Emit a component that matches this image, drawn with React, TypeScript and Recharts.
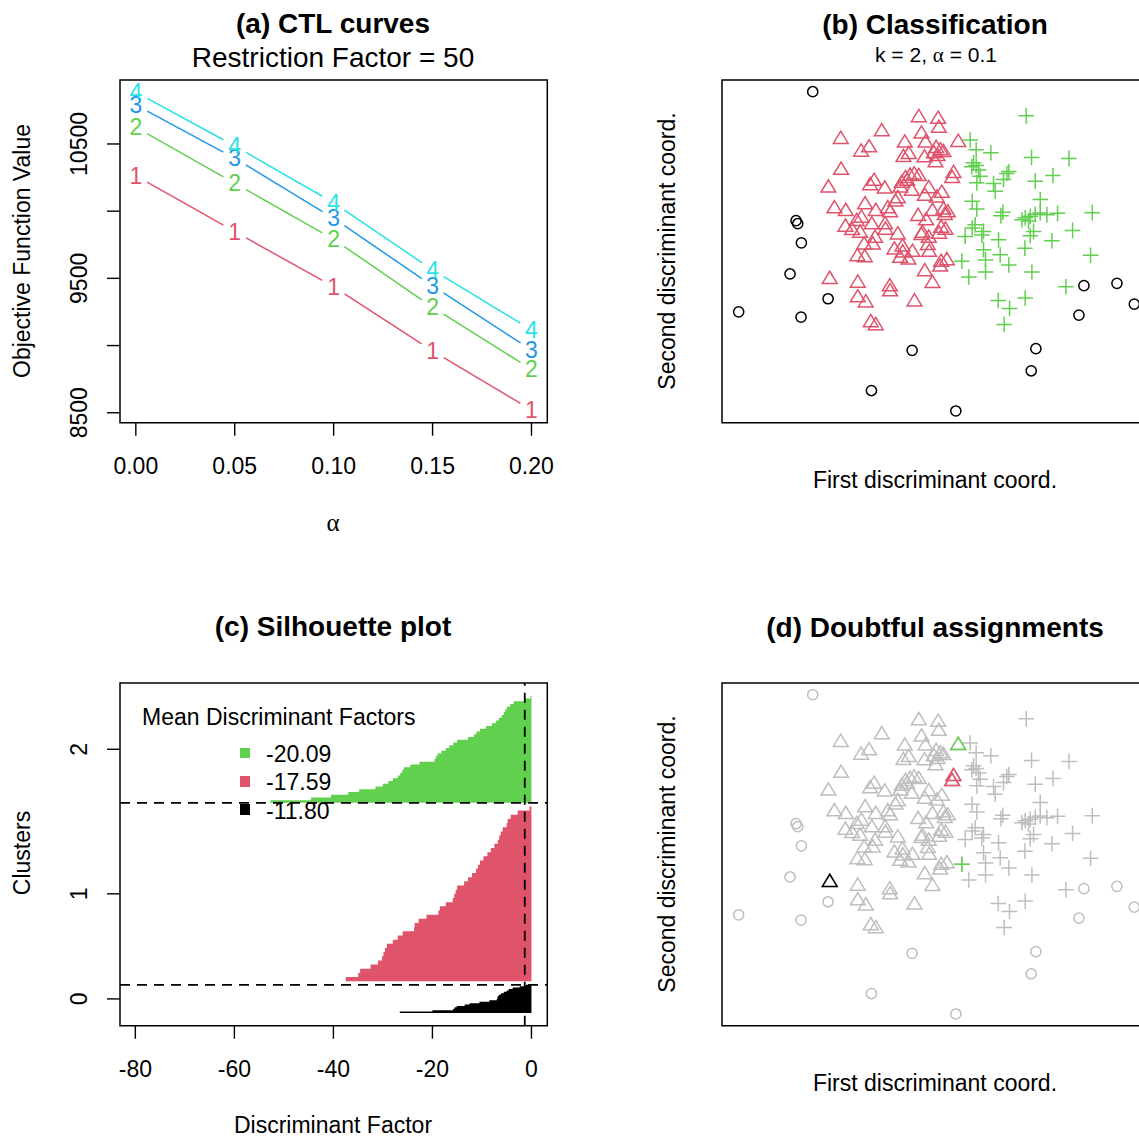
import React from 'react';
import {
  LineChart, Line, XAxis, YAxis, ReferenceArea, ReferenceLine,
  ScatterChart, Scatter, ComposedChart, Area,
} from 'recharts';

const FONT = '"Liberation Sans", Arial, Helvetica, sans-serif';
const SERIF = '"Liberation Serif", "DejaVu Serif", serif';
const RED = '#DF536B';
const GREEN = '#61D04F';
const BLUE = '#2297E6';
const CYAN = '#28E2E5';
const GREY = '#BEBEBE';
const CLUSTER_COLORS = ['#000000', RED, GREEN];

// ---- (a) CTL curves ----
const alphas = [0, 0.05, 0.1, 0.15, 0.2];
const ctlK1 = [10264, 9848, 9438, 8960, 8521];
const ctlK2 = [10624, 10208, 9791, 9285, 8824];
const ctlK3 = [10790, 10394, 9947, 9444, 8967];
const ctlK4 = [10885, 10485, 10063, 9563, 9116];
const ctlYTicks = [8500, 9000, 9500, 10000, 10500];
const ctlYLabelled = [8500, 9500, 10500];

// ---- (b)/(d) discriminant coordinates ----
const outliers: [number, number][] = [
  [-3.22, 4.62], [-3.72, 0.77], [-3.67, 0.68], [-3.56, 0.11], [-3.90, -0.82], [-2.76, -1.56],
  [-5.44, -1.95], [-3.57, -2.11], [-0.24, -3.10], [-1.46, -4.30], [1.07, -4.91], [3.47, -3.05],
  [3.33, -3.71], [4.91, -1.17], [5.90, -1.10], [6.42, -1.72], [4.76, -2.05],
];

const cluster1: [number, number][] = [
  [-0.04, 3.90], [0.54, 3.85], [0.56, 3.58], [-1.15, 3.48], [-2.38, 3.25], [0.04, 3.41], [-0.46, 3.14], [0.16, 3.14], [1.14, 3.16], [-1.53, 3.00],
  [-1.77, 2.87], [-0.34, 2.80], [-0.50, 2.71], [0.13, 2.70], [0.48, 2.98], [0.61, 2.91], [0.41, 2.82], [0.70, 2.86], [0.52, 2.74], [0.46, 2.55],
  [-2.37, 2.33], [1.00, 2.23], [0.96, 2.08], [-2.75, 1.80], [-1.38, 2.00], [-1.50, 1.87], [-1.06, 1.77], [-0.44, 2.08], [-0.30, 2.15], [-0.18, 2.19],
  [-0.04, 2.14], [-0.39, 2.00], [-0.55, 1.94], [-0.59, 1.80], [-0.25, 1.70], [0.26, 1.78], [0.14, 1.55], [0.65, 1.64], [0.50, 1.50], [-0.67, 1.48],
  [-0.74, 1.38], [-1.65, 1.30], [-2.57, 1.18], [-2.23, 1.10], [-1.33, 1.10], [-0.97, 1.18], [-0.90, 1.06], [0.37, 1.10], [0.70, 1.14], [0.83, 1.06],
  [-0.06, 0.95], [0.18, 0.82], [-1.76, 0.90], [-1.90, 0.80], [-1.45, 0.70], [-1.05, 0.70], [-2.24, 0.63], [-2.04, 0.53], [-1.80, 0.45], [-1.04, 0.54],
  [0.07, 0.45], [0.63, 0.60], [0.76, 0.54], [0.57, 0.42], [-0.67, 0.40], [-1.35, 0.30], [-1.68, 0.10], [-1.42, 0.10], [0.26, 0.30], [0.04, 0.38],
  [0.23, 0.08], [-0.53, 0.04], [-0.77, -0.05], [-0.23, -0.12], [-0.52, -0.14], [0.27, -0.12], [-1.88, -0.25], [-1.66, -0.28], [-0.60, -0.30], [-0.35, -0.35],
  [0.80, -0.37], [0.63, -0.42], [0.60, -0.56], [0.14, -0.70], [0.37, -1.05], [-2.71, -0.93], [-1.87, -1.04], [-0.91, -1.15], [-0.90, -1.30], [-1.87, -1.48],
  [-1.63, -1.63], [-0.17, -1.60], [-1.48, -2.22], [-1.33, -2.31], [0.74, 0.98],
];

const cluster2: [number, number][] = [
  [3.18, 3.90], [1.50, 3.18], [1.68, 2.89], [2.12, 2.80], [3.34, 2.66], [4.46, 2.63], [1.60, 2.50], [1.68, 2.42], [1.55, 2.38], [1.75, 2.28],
  [1.80, 2.10], [2.20, 1.88], [2.25, 1.65], [2.66, 2.24], [2.60, 2.18], [2.50, 2.00], [3.45, 1.95], [3.98, 2.12], [1.70, 1.90], [1.56, 1.35],
  [3.60, 1.40], [1.70, 1.12], [2.48, 1.02], [2.42, 0.92], [3.05, 0.80], [3.15, 0.86], [3.25, 0.76], [3.30, 0.90], [3.45, 0.96], [3.60, 1.00],
  [3.80, 0.95], [4.12, 0.99], [5.16, 1.01], [1.65, 0.65], [1.56, 0.55], [1.90, 0.45], [1.85, 0.34], [1.35, 0.30], [2.35, 0.20], [3.40, 0.45],
  [3.30, 0.32], [3.95, 0.17], [4.57, 0.48], [3.14, -0.05], [1.90, -0.10], [2.40, -0.25], [5.11, -0.26], [1.25, -0.44], [1.96, -0.40], [2.66, -0.55],
  [3.35, -0.76], [1.46, -0.91], [1.96, -0.76], [4.37, -1.20], [2.34, -1.61], [2.68, -1.85], [3.15, -1.54], [2.52, -2.33],
];

// doubtful assignments: index in its cluster and the cluster whose colour marks it
const doubtful1Idx = [8, 21, 22, 85];
const doubtful1Col = [2, 1, 1, 0];
const doubtful2Idx = [47];
const doubtful2Col = [2];

// ---- (c) silhouette (sorted discriminant factors, bottom to top) ----
const silh0 = [-26.6, -20.0, -15.8, -15.5, -15.1, -13.5, -12.5, -10.5, -8.5, -7.0, -6.9, -6.8, -6.6, -6.2, -5.6, -5.0, -4.6, -3.8, -2.4, -1.2];
const silh1 = [
  -37.5, -35.0, -34.6, -32.5, -31.0, -30.2, -29.9, -29.6, -29.2, -28.0, -27.0, -26.0, -23.7, -23.6,
  -22.8, -21.2, -18.8, -18.5, -17.3, -15.9, -15.6, -15.3, -15.0, -13.6, -12.8, -12.0, -11.2, -10.8,
  -10.4, -9.7, -8.9, -8.2, -7.5, -6.8, -6.5, -6.2, -5.8, -5.0, -4.8, -4.2, -2.8, -0.4,
];
const silh2 = [
  -52.7, -44.5, -40.5, -37.0, -34.8, -31.5, -30.0, -28.9, -28.0, -27.0, -26.5, -26.1, -25.8,
  -24.5, -22.6, -19.6, -19.3, -19.0, -18.2, -17.3, -16.6, -15.8, -15.0, -12.8, -11.6, -11.1,
  -10.4, -9.2, -8.0, -7.2, -6.6, -6.0, -5.6, -5.3, -5.0, -4.3, -3.6, -1.5, -0.2,
];
const clusterSizes = [20, 124, 76];
const clusterGap = 2.5;
const dfThreshold = -1.35;
const meanFactors = ['-20.09', '-17.59', '-11.80'];
const meanFactorClusters = [2, 1, 0];

// ---- layout ----
const PW = 602;
const PH = 603;
const MARGIN = { top: 80, right: 54.7, bottom: 120.3, left: 60 };
const TICK_LINE = { stroke: '#000', strokeWidth: 1.4 };
const BOX = { fill: 'none', stroke: '#000', strokeWidth: 1.5, fillOpacity: 0 };
const FS = 23;

const CTL_X: [number, number] = [-0.008, 0.208];
const CTL_Y: [number, number] = [8426, 10976];
const SC_X: [number, number] = [-5.94, 6.87];
const SC_Y: [number, number] = [-5.26, 4.97];
const DF_X: [number, number] = [-83.1, 3.2];

const Txt = ({ x, y, size = FS, bold = false, rotate = false, children }: any) => (
  <div
    style={{
      position: 'absolute', left: x, top: y,
      transform: `translate(-50%, -50%)${rotate ? ' rotate(-90deg)' : ''}`,
      fontSize: size, fontWeight: bold ? 700 : 400, fontFamily: FONT,
      whiteSpace: 'nowrap', lineHeight: 1, color: '#000',
    }}
  >
    {children}
  </div>
);

const Panel = ({ left, top, children }: any) => (
  <div style={{ position: 'absolute', left, top, width: PW, height: PH }}>{children}</div>
);

const XTick = ({ x, y, text }: any) => (
  <text x={x} y={y} textAnchor="middle" dominantBaseline="central" fontSize={FS} fontFamily={FONT} fill="#000">
    {text}
  </text>
);

const YTick = ({ x, y, text }: any) => (
  <text x={x} y={y} transform={`rotate(-90 ${x} ${y})`} textAnchor="middle" dominantBaseline="central"
    fontSize={FS} fontFamily={FONT} fill="#000">
    {text}
  </text>
);

// number label at each point, with the segment to the next point drawn with gaps (type = "b")
const GAP = 13;
const makeLabelDot = (label: string, color: string) => (props: any) => {
  const { cx, cy, index, points } = props;
  const next = points && points[index + 1];
  let seg = null;
  if (next) {
    const dx = next.x - cx;
    const dy = next.y - cy;
    const len = Math.hypot(dx, dy);
    const ux = dx / len;
    const uy = dy / len;
    seg = (
      <line x1={cx + ux * GAP} y1={cy + uy * GAP} x2={next.x - ux * GAP} y2={next.y - uy * GAP}
        stroke={color} strokeWidth={1.5} />
    );
  }
  return (
    <g key={`lbl-${label}-${index}`}>
      {seg}
      <text x={cx} y={cy} textAnchor="middle" dominantBaseline="central" fontSize={FS} fontFamily={FONT} fill={color}>
        {label}
      </text>
    </g>
  );
};

const circleShape = (color: string) => (p: any) => (
  <circle cx={p.cx} cy={p.cy} r={5.1} fill="none" stroke={color} strokeWidth={1.5} />
);
const triShape = (color: string) => (p: any) => (
  <polygon
    points={`${p.cx},${p.cy - 6.4} ${p.cx + 7.4},${p.cy + 5.8} ${p.cx - 7.4},${p.cy + 5.8}`}
    fill="none" stroke={color} strokeWidth={1.5} />
);
const plusShape = (color: string) => (p: any) => (
  <path d={`M${p.cx - 7.8},${p.cy}H${p.cx + 7.8}M${p.cx},${p.cy - 7.8}V${p.cy + 7.8}`}
    fill="none" stroke={color} strokeWidth={1.5} />
);

const toXY = (pts: [number, number][]) => pts.map(([x, y]) => ({ x, y }));

function CtlPanel() {
  const rows = alphas.map((a, i) => ({ alpha: a, k1: ctlK1[i], k2: ctlK2[i], k3: ctlK3[i], k4: ctlK4[i] }));
  const series = [
    { key: 'k1', label: '1', color: RED },
    { key: 'k2', label: '2', color: GREEN },
    { key: 'k3', label: '3', color: BLUE },
    { key: 'k4', label: '4', color: CYAN },
  ];
  return (
    <Panel left={0} top={0}>
      <LineChart width={PW} height={PH} data={rows} margin={MARGIN}>
        <XAxis type="number" dataKey="alpha" domain={CTL_X} ticks={alphas} allowDataOverflow interval={0}
          height={60} tickSize={13} tickMargin={30} axisLine={false} tickLine={TICK_LINE}
          tick={(p: any) => <XTick x={p.x} y={p.y} text={Number(p.payload.value).toFixed(2)} />} />
        <YAxis type="number" domain={CTL_Y} ticks={ctlYTicks} allowDataOverflow interval={0}
          width={60} tickSize={13} tickMargin={28} axisLine={false} tickLine={TICK_LINE}
          tick={(p: any) => (
            <YTick x={p.x} y={p.y} text={ctlYLabelled.includes(p.payload.value) ? String(p.payload.value) : ''} />
          )} />
        <ReferenceArea x1={CTL_X[0]} x2={CTL_X[1]} y1={CTL_Y[0]} y2={CTL_Y[1]} {...BOX} />
        {series.map((s) => (
          <Line key={s.key} dataKey={s.key} stroke="none" dot={makeLabelDot(s.label, s.color)}
            activeDot={false} isAnimationActive={false} />
        ))}
      </LineChart>
      <Txt x={333} y={24} size={28} bold>(a) CTL curves</Txt>
      <Txt x={333} y={58} size={28}>Restriction Factor = 50</Txt>
      <Txt x={22} y={251} rotate>Objective Function Value</Txt>
      <Txt x={333} y={522} size={25}><span style={{ fontFamily: SERIF }}>α</span></Txt>
    </Panel>
  );
}

function DiscPanel({ left, top, doubtful }: any) {
  const c0 = doubtful ? GREY : CLUSTER_COLORS[0];
  const c1 = doubtful ? GREY : CLUSTER_COLORS[1];
  const c2 = doubtful ? GREY : CLUSTER_COLORS[2];
  return (
    <Panel left={left} top={top}>
      <ScatterChart width={PW} height={PH} margin={MARGIN}>
        <XAxis type="number" dataKey="x" domain={SC_X} allowDataOverflow height={60}
          tick={false} tickLine={false} axisLine={false} />
        <YAxis type="number" dataKey="y" domain={SC_Y} allowDataOverflow width={60}
          tick={false} tickLine={false} axisLine={false} />
        <ReferenceArea x1={SC_X[0]} x2={SC_X[1]} y1={SC_Y[0]} y2={SC_Y[1]} {...BOX} />
        <Scatter data={toXY(outliers)} shape={circleShape(c0)} isAnimationActive={false} />
        <Scatter data={toXY(cluster1)} shape={triShape(c1)} isAnimationActive={false} />
        <Scatter data={toXY(cluster2)} shape={plusShape(c2)} isAnimationActive={false} />
        {doubtful && doubtful1Idx.map((idx, i) => (
          <Scatter key={`d1-${idx}`} data={toXY([cluster1[idx]])}
            shape={triShape(CLUSTER_COLORS[doubtful1Col[i]])} isAnimationActive={false} />
        ))}
        {doubtful && doubtful2Idx.map((idx, i) => (
          <Scatter key={`d2-${idx}`} data={toXY([cluster2[idx]])}
            shape={plusShape(CLUSTER_COLORS[doubtful2Col[i]])} isAnimationActive={false} />
        ))}
      </ScatterChart>
      {doubtful ? (
        <Txt x={333} y={25} size={28} bold>(d) Doubtful assignments</Txt>
      ) : (
        <>
          <Txt x={333} y={25} size={28} bold>(b) Classification</Txt>
          <Txt x={334} y={55} size={21}>
            k = 2, <span style={{ fontFamily: SERIF }}>α</span> = 0.1
          </Txt>
        </>
      )}
      <Txt x={65} y={251} rotate>Second discriminant coord.</Txt>
      <Txt x={333} y={480}>First discriminant coord.</Txt>
    </Panel>
  );
}

function SilhouettePanel() {
  const starts: number[] = [];
  clusterSizes.reduce((acc, n) => {
    starts.push(acc);
    return acc + n + clusterGap;
  }, 0);
  const total = starts[2] + clusterSizes[2];
  const yDom: [number, number] = [-0.04 * total, 1.04 * total];
  const centres = starts.map((s, c) => s + clusterSizes[c] / 2);
  const silh = [silh0, silh1, silh2].map((vals, c) => {
    const step = clusterSizes[c] / vals.length;
    const pts = vals.map((v, i) => ({ pos: starts[c] + i * step, value: v }));
    pts.push({ pos: starts[c] + clusterSizes[c], value: vals[vals.length - 1] });
    return pts;
  });
  return (
    <Panel left={0} top={603}>
      <ComposedChart layout="vertical" width={PW} height={PH} margin={MARGIN}>
        <XAxis type="number" domain={DF_X} ticks={[-80, -60, -40, -20, 0]} allowDataOverflow interval={0}
          height={60} tickSize={13} tickMargin={30} axisLine={false} tickLine={TICK_LINE}
          tick={(p: any) => <XTick x={p.x} y={p.y} text={String(p.payload.value)} />} />
        <YAxis type="number" dataKey="pos" domain={yDom} ticks={centres} allowDataOverflow interval={0} reversed
          width={60} tickSize={13} tickMargin={28} axisLine={false} tickLine={TICK_LINE}
          tick={(p: any) => <YTick x={p.x} y={p.y} text={String(centres.indexOf(p.payload.value))} />} />
        {silh.map((pts, c) => (
          <Area key={`s-${c}`} data={pts} dataKey="value" type="stepBefore" stroke="none"
            fill={CLUSTER_COLORS[c]} fillOpacity={1} isAnimationActive={false} activeDot={false} dot={false} />
        ))}
        <ReferenceLine y={starts[0] + clusterSizes[0]} stroke="#000" strokeWidth={1.8} strokeDasharray="10 7" />
        <ReferenceLine y={starts[2]} stroke="#000" strokeWidth={1.8} strokeDasharray="10 7" />
        <ReferenceLine x={dfThreshold} stroke="#000" strokeWidth={1.8} strokeDasharray="10 7" />
        <ReferenceArea x1={DF_X[0]} x2={DF_X[1]} y1={yDom[0]} y2={yDom[1]} {...BOX} />
      </ComposedChart>
      <Txt x={333} y={24} size={28} bold>(c) Silhouette plot</Txt>
      <Txt x={22} y={250} rotate>Clusters</Txt>
      <Txt x={333} y={522}>Discriminant Factor</Txt>
      <div style={{ position: 'absolute', left: 142, top: 114, transform: 'translateY(-50%)', fontSize: FS, fontFamily: FONT, lineHeight: 1, whiteSpace: 'nowrap' }}>
        Mean Discriminant Factors
      </div>
      {meanFactors.map((m, i) => (
        <React.Fragment key={m}>
          <div style={{ position: 'absolute', left: 239.5, top: 150 + i * 28.3 - 5.3, width: 10.6, height: 10.6, background: CLUSTER_COLORS[meanFactorClusters[i]] }} />
          <div style={{ position: 'absolute', left: 266, top: 151 + i * 28.3, transform: 'translateY(-50%)', fontSize: FS, fontFamily: FONT, lineHeight: 1, whiteSpace: 'nowrap' }}>
            {m}
          </div>
        </React.Fragment>
      ))}
    </Panel>
  );
}

export default function App() {
  return (
    <div style={{ position: 'absolute', left: 0, top: 0, width: 1139, height: 1138, overflow: 'hidden', background: '#fff', fontFamily: FONT }}>
      <CtlPanel />
      <DiscPanel left={602} top={0} doubtful={false} />
      <SilhouettePanel />
      <DiscPanel left={602} top={603} doubtful />
    </div>
  );
}
